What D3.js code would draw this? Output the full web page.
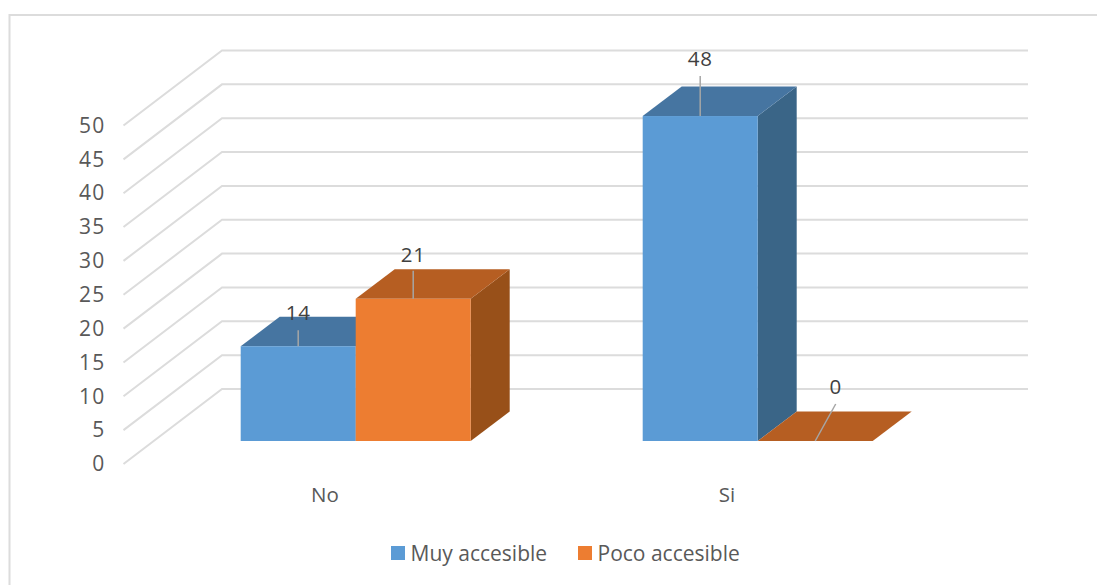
<!DOCTYPE html>
<html>
<head>
<meta charset="utf-8">
<script src="https://cdn.jsdelivr.net/npm/d3@7"></script>
<style>
  html, body { margin: 0; padding: 0; background: #fff; overflow: hidden; }
  svg { display: block; }
  text { font-family: "Open Sans", sans-serif; }
</style>
</head>
<body>
<svg id="chart" width="1097" height="585"></svg>
<script>
// Chart values
const categories = ["No", "Si"];
const seriesNames = ["Muy accesible", "Poco accesible"];
const muyAccesible = [14, 48];
const pocoAccesible = [21, 0];
const axisTicks = [0, 5, 10, 15, 20, 25, 30, 35, 40, 45, 50];

const seriesValues = [muyAccesible, pocoAccesible];
const faceColors = [
  { front: "#5b9bd5", top: "#4675a1", side: "#3a6587" },
  { front: "#ed7d31", top: "#b65e22", side: "#985019" }
];

// Oblique projection of the 3-D plot box
const wallDx = 98.5, wallDy = -75;         // front edge to back wall
const barOffsetDx = 31.2, barOffsetDy = -23; // front edge to the bars' front plane
const barDepthDx = 39, barDepthDy = -29.5;  // depth of each column
const frontLeft = 123.5, frontRight = 927.5, wallRight = 1028;

const y = d3.scaleLinear().domain([0, 50]).range([464, 125.5]);
const x = d3.scaleBand().domain(categories).range([frontLeft, frontRight]);
const seriesX = d3.scaleBand().domain(d3.range(seriesNames.length)).range([-115, 115]);

const svg = d3.select("#chart");

// Outer chart border, open towards the right and bottom edges
svg.append("path")
  .attr("d", "M9.5,585V15H1097")
  .attr("fill", "none")
  .attr("stroke", "#dcdcdc")
  .attr("stroke-width", 2);

// Floor and wall gridlines
svg.append("g").selectAll("path")
  .data(axisTicks)
  .join("path")
  .attr("d", t => d3.line()([
    [frontLeft, y(t)],
    [frontLeft + wallDx, y(t) + wallDy],
    [wallRight, y(t) + wallDy]
  ]))
  .attr("fill", "none")
  .attr("stroke", "#dcdcdc")
  .attr("stroke-width", 2);

// Value axis labels
const yAxis = svg.append("g")
  .attr("transform", `translate(${frontLeft - 16},0)`)
  .call(d3.axisLeft(y).tickValues(axisTicks).tickSize(0).tickPadding(2));
yAxis.select(".domain").remove();
yAxis.selectAll("text")
  .attr("font-size", 21)
  .attr("letter-spacing", 1.2)
  .style("font-family", '"Open Sans", sans-serif')
  .attr("fill", "#595959");

// Category labels
const xAxis = svg.append("g")
  .attr("transform", "translate(0.5,487)")
  .call(d3.axisBottom(x).tickSize(0).tickPadding(0));
xAxis.select(".domain").remove();
xAxis.selectAll("text")
  .attr("font-size", 20.5)
  .attr("dy", "0.71em")
  .style("font-family", '"Open Sans", sans-serif')
  .attr("fill", "#595959");

// Columns, painted left to right so nearer faces overlap correctly
const bars = [];
categories.forEach((c, ci) => {
  seriesNames.forEach((s, si) => {
    bars.push({ category: c, series: si, value: seriesValues[si][ci] });
  });
});

const geometry = d => {
  const left = x(d.category) + x.bandwidth() / 2 + barOffsetDx + seriesX(d.series);
  const right = left + seriesX.bandwidth();
  const base = y(0) + barOffsetDy;
  const top = y(d.value) + barOffsetDy;
  return { left, right, base, top };
};

const barGroups = svg.append("g").selectAll("g")
  .data(bars)
  .join("g");

barGroups.append("path")
  .attr("fill", d => faceColors[d.series].side)
  .attr("d", d => {
    const g = geometry(d);
    return d3.line()([
      [g.right, g.top],
      [g.right + barDepthDx, g.top + barDepthDy],
      [g.right + barDepthDx, g.base + barDepthDy],
      [g.right, g.base]
    ]) + "Z";
  });

barGroups.append("path")
  .attr("fill", d => faceColors[d.series].top)
  .attr("d", d => {
    const g = geometry(d);
    return d3.line()([
      [g.left, g.top],
      [g.left + barDepthDx, g.top + barDepthDy],
      [g.right + barDepthDx, g.top + barDepthDy],
      [g.right, g.top]
    ]) + "Z";
  });

barGroups.append("rect")
  .attr("fill", d => faceColors[d.series].front)
  .attr("x", d => geometry(d).left)
  .attr("width", seriesX.bandwidth())
  .attr("y", d => geometry(d).top)
  .attr("height", d => geometry(d).base - geometry(d).top);

// Data labels with leader lines; offsets are relative to each column's top centre
const labelPlacement = [
  { dx: 0, dy: -34, leaderDx: 0, leaderDy: -16 },
  { dx: 0, dy: -44, leaderDx: 0, leaderDy: -28 },
  { dx: 0, dy: -57, leaderDx: 0, leaderDy: -40 },
  { dx: 20.5, dy: -54, leaderDx: 20.5, leaderDy: -37 }
];

const labels = svg.append("g").selectAll("g")
  .data(bars)
  .join("g");

labels.append("line")
  .attr("stroke", "#a6a6a6")
  .attr("stroke-width", 1.5)
  .attr("x1", d => (geometry(d).left + geometry(d).right) / 2)
  .attr("y1", d => geometry(d).top)
  .attr("x2", (d, i) => (geometry(d).left + geometry(d).right) / 2 + labelPlacement[i].leaderDx)
  .attr("y2", (d, i) => geometry(d).top + labelPlacement[i].leaderDy);

labels.append("text")
  .attr("x", (d, i) => (geometry(d).left + geometry(d).right) / 2 + labelPlacement[i].dx)
  .attr("y", (d, i) => geometry(d).top + labelPlacement[i].dy)
  .attr("dy", "0.36em")
  .attr("text-anchor", "middle")
  .attr("font-size", 20.5)
  .attr("letter-spacing", 0.8)
  .attr("fill", "#404040")
  .text(d => d.value);

// Legend
const legendX = [391, 578];
const legend = svg.append("g").selectAll("g")
  .data(seriesNames)
  .join("g")
  .attr("transform", (d, i) => `translate(${legendX[i]},546)`);

legend.append("rect")
  .attr("width", 14)
  .attr("height", 14)
  .attr("fill", (d, i) => faceColors[i].front);

legend.append("text")
  .attr("x", 19.5)
  .attr("y", 7)
  .attr("dy", "0.36em")
  .attr("font-size", 21)
  .attr("fill", "#595959")
  .text(d => d);
</script>
</body>
</html>
